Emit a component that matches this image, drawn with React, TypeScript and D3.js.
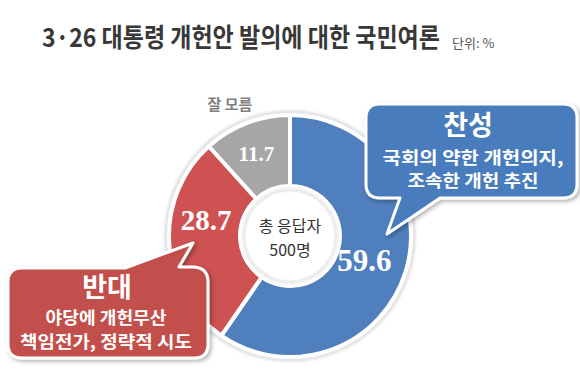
import React from 'react';
import * as d3 from 'd3';

const categories = ['찬성', '반대', '잘 모름'];
const shares = [59.6, 28.7, 11.7];
const sliceColors = ['#4f7fbd', '#cd5251', '#a6a6a6'];
const bubbleColors = ['#4a7cbc', '#c24f4c'];
const centerLines = ['총 응답자', '500명'];
const proLines = ['국회의 약한 개헌의지,', '조속한 개헌 추진'];
const conLines = ['야당에 개헌무산', '책임전가, 정략적 시도'];

const W = 580;
const H = 370;
const cx = 290;
const cy = 236;
const outerR = 121;
const innerR = 50;

// label tweaks (radius, extra dx/dy) per slice, excel "best fit" style
const labelR = [80, 86, 88];
const labelNudge = [[-2, 0], [2, -22], [-2, 0]];
const labelSize = [31, 29, 21];

// measured widths of the bubble lines
const proWidths = [181, 131];
const conWidths = [121, 172];

const KR = "'Noto Sans CJK KR', 'Noto Sans', sans-serif";

const App: React.FC = () => {
  const pie = d3.pie<number>().sort(null).value(d => d);
  const arcs = pie(shares);
  const arc = d3.arc<d3.PieArcDatum<number>>().innerRadius(innerR).outerRadius(outerR);

  const proBubble = 'M380,104 H563 Q577,104 577,118 V184 Q577,198 563,198 H440 L387,234 L400,198 H380 Q366,198 366,184 V118 Q366,104 380,104 Z';
  const conBubble = 'M22,268 H125 L193,243 L179,267 H194 Q208,268 208,282 V344 Q208,358 194,358 H22 Q8,358 8,344 V282 Q8,268 22,268 Z';

  return (
    <svg width={W} height={H} style={{ position: 'absolute', left: 0, top: 0, background: '#fff' }}>
      <defs>
        <filter id="shadow" x="-20%" y="-20%" width="140%" height="140%">
          <feDropShadow dx="2" dy="2" stdDeviation="2" floodColor="#000" floodOpacity="0.3" />
        </filter>
        <filter id="ringBlur" x="-20%" y="-20%" width="140%" height="140%">
          <feGaussianBlur stdDeviation="1.5" />
        </filter>
      </defs>

      {/* condensed title */}
      <text transform="translate(42,47) scale(0.885,1)" fontFamily={KR} fontWeight={700} fontSize={26} fill="#383838">3·26 대통령 개헌안 발의에 대한 국민여론</text>
      <text x={452} y={48} fontFamily={KR} fontSize={13} fill="#555">단위: %</text>

      <g transform={`translate(${cx},${cy})`}>
        <circle r={outerR + 3} fill="none" stroke="#d9d9d9" strokeWidth={3} filter="url(#ringBlur)" />
        {arcs.map((a, i) => (
          <path key={categories[i]} d={arc(a) || ''} fill={sliceColors[i]} stroke="#fff" strokeWidth={4} strokeLinejoin="round" />
        ))}
        <circle r={innerR - 4} fill="#fff" stroke="#e3e3e3" strokeWidth={3} filter="url(#ringBlur)" />
        <circle r={innerR - 6} fill="#fff" />
        {arcs.map((a, i) => {
          const mid = (a.startAngle + a.endAngle) / 2;
          const x = Math.sin(mid) * labelR[i] + labelNudge[i][0];
          const y = -Math.cos(mid) * labelR[i] + labelNudge[i][1];
          return (
            <text key={'l' + i} x={x} y={y} dy="0.35em" textAnchor="middle"
              fontFamily="'Liberation Serif', 'DejaVu Serif', serif" fontWeight={700}
              fontSize={labelSize[i]} fill="#fff">{shares[i].toFixed(1)}</text>
          );
        })}
        {centerLines.map((t, i) => (
          <text key={t} x={0} y={-10 + i * 24} dy="0.35em" textAnchor="middle" fontFamily={KR}
            fontSize={16} fill="#333">{t}</text>
        ))}
      </g>

      <text x={230} y={105} dy="0.35em" textAnchor="middle" fontFamily={KR} fontWeight={700}
        fontSize={15} fill="#7f7f7f">{categories[2]}</text>

      <path d={proBubble} fill={bubbleColors[0]} stroke="#fff" strokeWidth={3} strokeLinejoin="round" filter="url(#shadow)" />
      <text x={468} y={126} dy="0.35em" textAnchor="middle" fontFamily={KR} fontWeight={700} fontSize={27} fill="#fff">{categories[0]}</text>
      {proLines.map((t, i) => (
        <text key={t} x={473} y={158 + i * 23} dy="0.35em" textAnchor="middle" fontFamily={KR}
          fontWeight={700} fontSize={17} fill="#fff" textLength={proWidths[i]} lengthAdjust="spacingAndGlyphs">{t}</text>
      ))}

      <path d={conBubble} fill={bubbleColors[1]} stroke="#fff" strokeWidth={3} strokeLinejoin="round" filter="url(#shadow)" />
      <text x={107} y={288} dy="0.35em" textAnchor="middle" fontFamily={KR} fontWeight={700} fontSize={27} fill="#fff">{categories[1]}</text>
      {conLines.map((t, i) => (
        <text key={t} x={106} y={318 + i * 24} dy="0.35em" textAnchor="middle" fontFamily={KR}
          fontWeight={700} fontSize={17} fill="#fff" textLength={conWidths[i]} lengthAdjust="spacingAndGlyphs">{t}</text>
      ))}
    </svg>
  );
};

export default App;
